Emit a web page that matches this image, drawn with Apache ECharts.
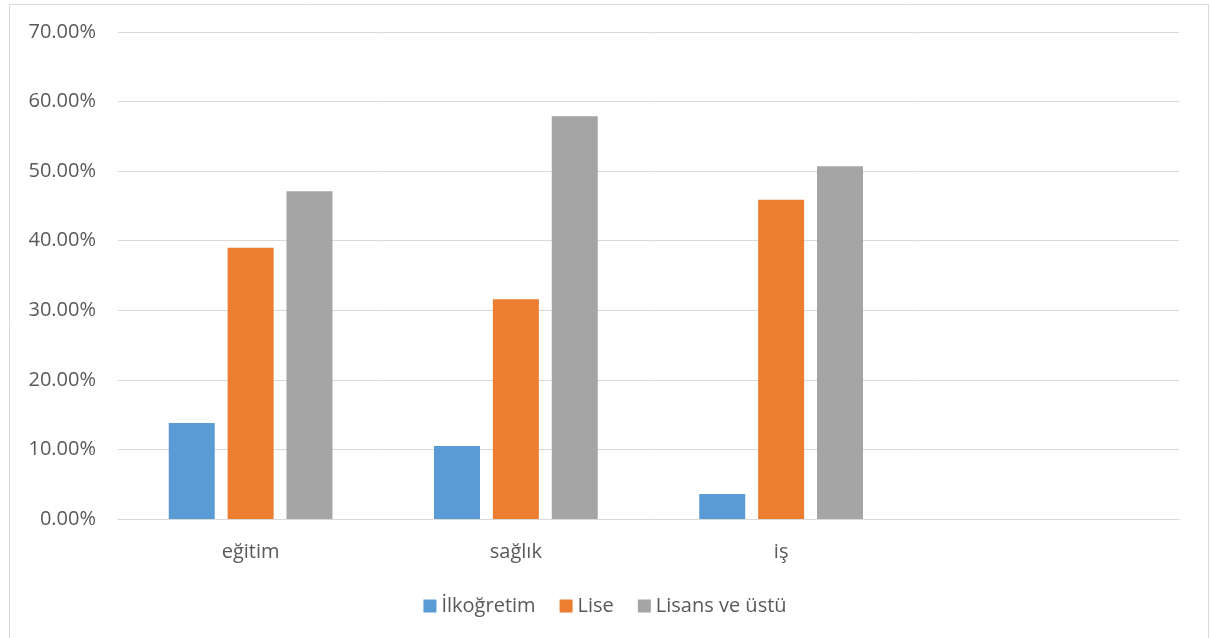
<!DOCTYPE html>
<html>
<head>
<meta charset="utf-8">
<script src="https://cdn.jsdelivr.net/npm/echarts@6/dist/echarts.min.js"></script>
<style>
html,body{margin:0;padding:0;background:#fff;}
#chart{width:1210px;height:638px;}
</style>
</head>
<body>
<div id="chart"></div>
<script>
const categories = ['eğitim', 'sağlık', 'iş', ''];
const seriesNames = ['İlkoğretim', 'Lise', 'Lisans ve üstü'];
const ilkogretim = [0.138, 0.105, 0.036, null];
const lise = [0.390, 0.316, 0.459, null];
const lisans = [0.471, 0.579, 0.507, null];
const colors = ['#5B9BD5', '#ED7D31', '#A5A5A5'];
const yTicks = [0, 0.1, 0.2, 0.3, 0.4, 0.5, 0.6, 0.7];

const font = '"Open Sans", "Liberation Sans", sans-serif';
const chart = echarts.init(document.getElementById('chart'));
const dataSets = [ilkogretim, lise, lisans];
chart.setOption({
  animation: false,
  color: colors,
  graphic: [{
    type: 'rect', left: 7, top: 2, shape: {width: 1199, height: 634},
    style: {fill: 'none', stroke: '#D9D9D9', lineWidth: 1}, silent: true, z: -1
  }],
  grid: {left: 118, right: 31, top: 32, bottom: 119, containLabel: false},
  legend: {
    top: 591, left: 'center',
    itemWidth: 13, itemHeight: 13, itemGap: 24,
    icon: 'rect',
    textStyle: {color: '#595959', fontSize: 20, fontFamily: font, padding: [0, 0, 0, 0]},
    data: seriesNames
  },
  xAxis: {
    type: 'category', data: categories,
    axisLine: {show: true, lineStyle: {color: '#D9D9D9', width: 1}},
    axisTick: {show: false},
    axisLabel: {color: '#595959', fontSize: 20, fontFamily: font, margin: 23}
  },
  yAxis: {
    type: 'value', min: yTicks[0], max: yTicks[yTicks.length - 1], interval: 0.1,
    axisLine: {show: false}, axisTick: {show: false},
    splitLine: {lineStyle: {color: '#D9D9D9', width: 1}},
    axisLabel: {
      color: '#595959', fontSize: 20, fontFamily: font, margin: 22,
      formatter: v => (v * 100).toFixed(2) + '%'
    }
  },
  series: seriesNames.map((n, i) => ({
    name: n, type: 'bar', data: dataSets[i],
    barWidth: 46, barGap: '28%',
    itemStyle: {color: colors[i]}
  }))
});
</script>
</body>
</html>
